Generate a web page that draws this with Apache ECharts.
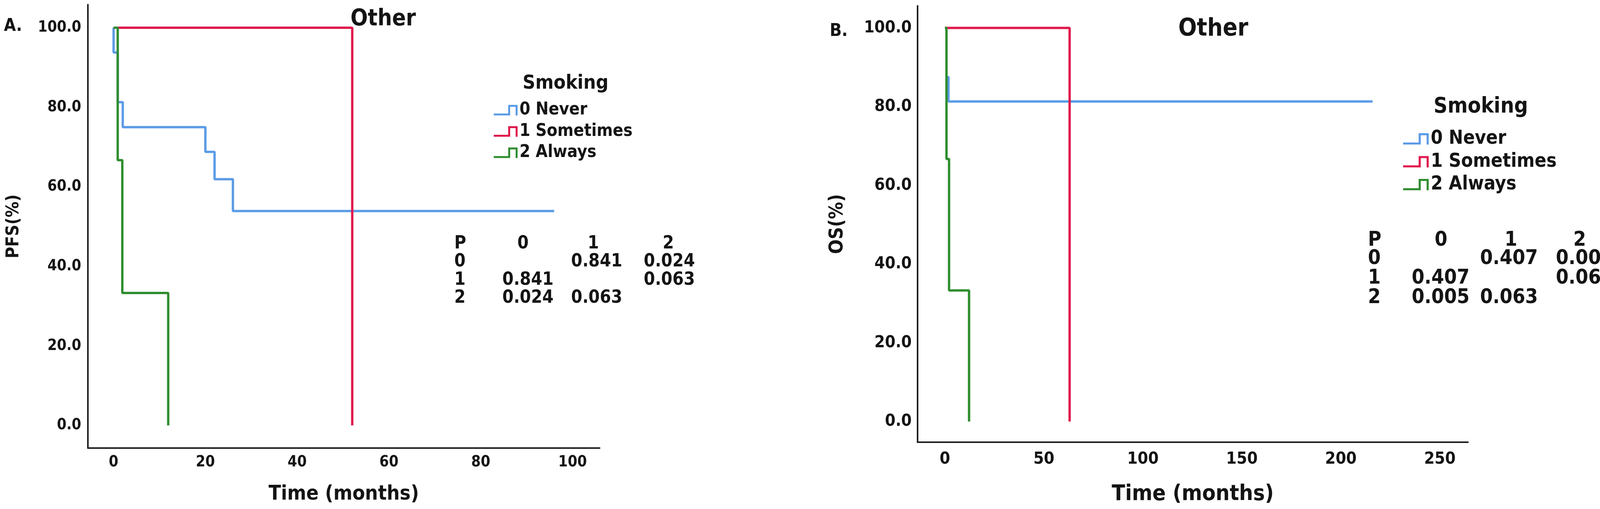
<!DOCTYPE html>
<html>
<head>
<meta charset="utf-8">
<title>PFS / OS by smoking</title>
<script src="https://cdn.jsdelivr.net/npm/echarts@6/dist/echarts.min.js"></script>
<style>
  html, body { margin:0; padding:0; background:#fff; overflow:hidden; }
  #chart { width:4142px; height:1303px; }
</style>
</head>
<body>
<div id="chart"></div>
<script>
// data: [time in months, survival %]
const groups = ["0 Never", "1 Sometimes", "2 Always"];
const colors = ["#5b9be6", "#e0184d", "#2f8d2f"];

const pfsNever     = [[0,100],[0,93.8],[0.9,81.3],[2,75.0],[20,68.8],[22,61.9],[26,53.9],[96,53.9]];
const pfsSometimes = [[0,100],[52,0]];
const pfsAlways    = [[0,100],[0.9,66.7],[1.9,33.3],[11.9,0]];

const osNever      = [[0,100],[0.8,87.5],[1.8,81.3],[216,81.3]];
const osSometimes  = [[0,100],[63,0]];
const osAlways     = [[0,100],[0.8,66.7],[2.1,33.3],[12.2,0]];

const yTicks   = [0, 20, 40, 60, 80, 100];
const pfsTicks = [0, 20, 40, 60, 80, 100];
const osTicks  = [0, 50, 100, 150, 200, 250];

// pairwise log-rank p values
const pHeader = ["P", "0", "1", "2"];
const pRows   = ["0", "1", "2"];
const pfsP = [[null,"0.841","0.024"],["0.841",null,"0.063"],["0.024","0.063",null]];
const osP  = [[null,"0.407","0.005"],["0.407",null,"0.063"],["0.005","0.063",null]];

const FONT = '"DejaVu Sans Condensed", "DejaVu Sans", sans-serif';
const INK = "#141414";
// step-shaped legend glyph, drawn as a filled outline of a 5px stroke
const stepIcon = "path://M0,22L37,22L37,0L61,0L61,27L56,27L56,5L42,5L42,27L0,27Z";

// layout of the two panels
const panels = [
  { letter:"A.", lx:10, ly:68, ls:44, title:"Other", tx:981, ty:50, ts:58,
    legX:1264, legTop:260, iw:61, ih:27, lfs:44, lgap:10.5, legTitleX:1338, legTitleY:214, legTitleS:50,
    pX:1163, hdrX:[1339,1519,1711], valR:[1417,1593,1779], rowY:[624,670,717,763], tfs:46, p:pfsP,
    grid:{left:225, top:12, width:1310, height:1135},
    x:{min:-5.6, max:105.9, ticks:pfsTicks, fs:39, margin:17, name:"Time (months)", ns:52, gap:92},
    y:{min:-5.7, max:105.8, fs:39, margin:17, name:"PFS(%)", ns:45, gap:167},
    data:[pfsNever, pfsSometimes, pfsAlways] },
  { letter:"B.", lx:2124, ly:80, ls:45, title:"Other", tx:3106, ty:75, ts:62,
    legX:3592, legTop:331, iw:66, ih:29, lfs:49, lgap:9.5, legTitleX:3670, legTitleY:274, legTitleS:55,
    pX:3502, hdrX:[3689,3868,4044], valR:[3762,3937,4131], rowY:[615,662,712,762], tfs:52, p:osP,
    grid:{left:2349, top:15, width:1409, height:1117},
    x:{min:-13.8, max:264.2, ticks:osTicks, fs:43, margin:22, name:"Time (months)", ns:56, gap:105},
    y:{min:-5.26, max:105.6, fs:43, margin:15, name:"OS(%)", ns:49, gap:180},
    data:[osNever, osSometimes, osAlways] }
];

const chart = echarts.init(document.getElementById("chart"), null, { renderer: "canvas" });

function txt(x, y, text, size, align){
  return { type:"text", x:x, y:y, silent:true,
    style:{ text:text, fill:INK, font:"bold "+size+"px "+FONT, align:align||"left", verticalAlign:"middle" } };
}

const grids = [], xAxes = [], yAxes = [], series = [], legends = [], graphics = [];

panels.forEach((pn, i) => {
  grids.push(Object.assign({ outerBoundsMode:"none", containLabel:false }, pn.grid));
  const axisLine = { onZero:false, lineStyle:{ color:"#1e1e1e", width:4 } };
  xAxes.push({ type:"value", gridIndex:i, min:pn.x.min, max:pn.x.max,
    axisLine:axisLine, axisTick:{show:false}, splitLine:{show:false},
    axisLabel:{ customValues:pn.x.ticks, color:INK, fontWeight:"bold", fontFamily:FONT, fontSize:pn.x.fs, margin:pn.x.margin },
    name:pn.x.name, nameLocation:"middle", nameGap:pn.x.gap,
    nameTextStyle:{ color:INK, fontWeight:"bold", fontFamily:FONT, fontSize:pn.x.ns } });
  yAxes.push({ type:"value", gridIndex:i, min:pn.y.min, max:pn.y.max,
    axisLine:axisLine, axisTick:{show:false}, splitLine:{show:false},
    axisLabel:{ customValues:yTicks, formatter:(v)=>Number(v).toFixed(1), color:INK, fontWeight:"bold",
      fontFamily:FONT, fontSize:pn.y.fs, margin:pn.y.margin },
    name:pn.y.name, nameLocation:"middle", nameGap:pn.y.gap,
    nameTextStyle:{ color:INK, fontWeight:"bold", fontFamily:FONT, fontSize:pn.y.ns } });

  groups.forEach((g, k) => {
    series.push({ type:"line", name:g, xAxisIndex:i, yAxisIndex:i, step:"end",
      data:pn.data[k], showSymbol:false, symbol:"none", silent:true,
      lineStyle:{ color:colors[k], width:6 }, itemStyle:{ color:colors[k] }, z:2+k });
  });

  legends.push({ data:groups, orient:"vertical", left:pn.legX, top:pn.legTop, padding:0,
    itemWidth:pn.iw, itemHeight:pn.ih, itemGap:pn.lgap, icon:stepIcon, selectedMode:false,
    itemStyle:{ borderWidth:0 },
    textStyle:{ color:INK, fontWeight:"bold", fontFamily:FONT, fontSize:pn.lfs, lineHeight:pn.lfs } });

  graphics.push(txt(pn.lx, pn.ly, pn.letter, pn.ls));
  graphics.push(txt(pn.tx, pn.ty, pn.title, pn.ts, "center"));
  graphics.push(txt(pn.legTitleX, pn.legTitleY, "Smoking", pn.legTitleS));

  // p value table
  graphics.push(txt(pn.pX, pn.rowY[0], pHeader[0], pn.tfs));
  for (let c = 0; c < 3; c++) graphics.push(txt(pn.hdrX[c], pn.rowY[0], pHeader[c+1], pn.tfs, "center"));
  pRows.forEach((r, ri) => {
    graphics.push(txt(pn.pX, pn.rowY[ri+1], r, pn.tfs));
    pn.p[ri].forEach((v, c) => { if (v) graphics.push(txt(pn.valR[c], pn.rowY[ri+1], v, pn.tfs, "right")); });
  });
});

chart.setOption({
  backgroundColor:"#fff",
  animation:false,
  grid:grids, xAxis:xAxes, yAxis:yAxes, series:series, legend:legends,
  graphic:{ elements:graphics }
});
</script>
</body>
</html>
